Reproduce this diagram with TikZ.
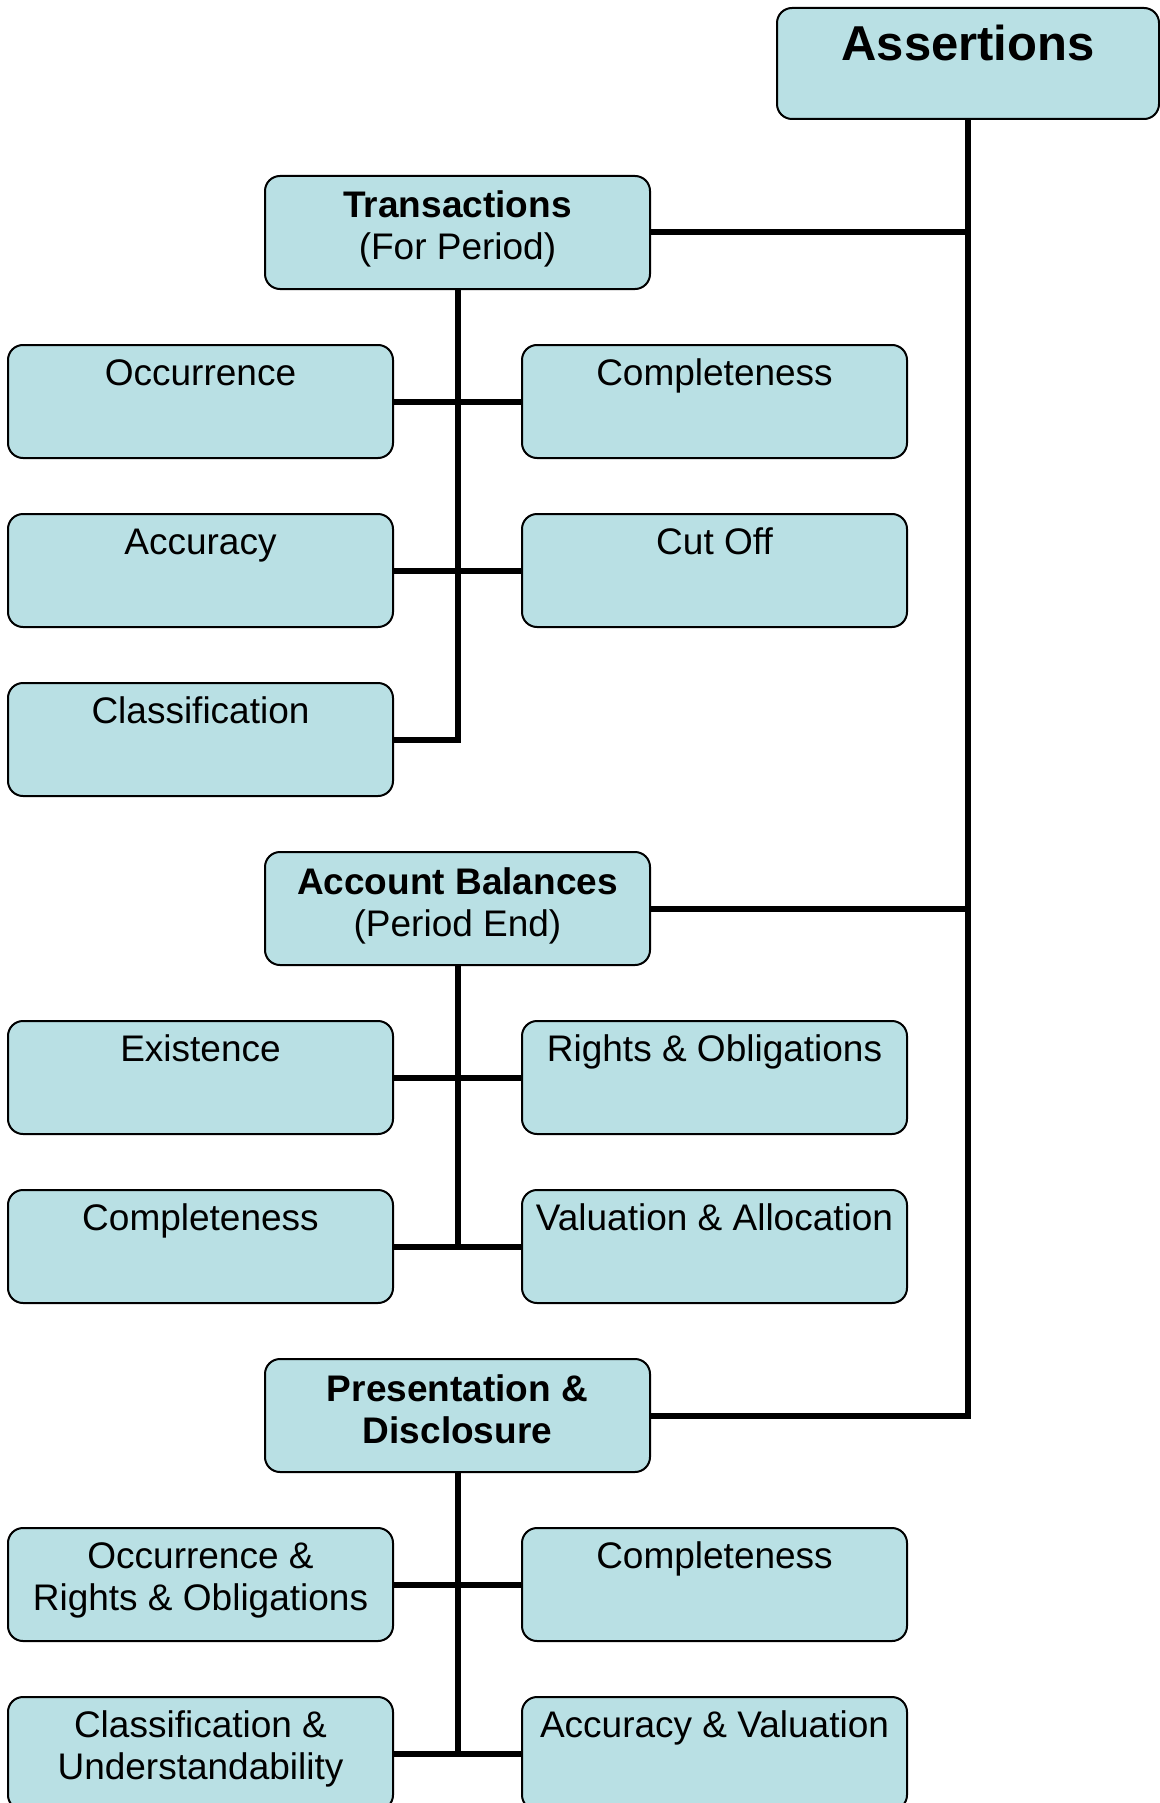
\documentclass[tikz,border=0pt]{standalone}
\usepackage{fontspec}
\setmainfont{Liberation Sans}
\definecolor{boxfill}{RGB}{185,224,228}

% one rounded box plus its top-aligned caption
% #1 name, #2 x, #3 y (top-left corner), #4 caption style, #5 caption
\newcommand\assertbox[5]{%
  \node[box] (#1) at (#2,#3) {};
  \node[#4] (#1-t) at (#1.north) {#5};}

\begin{document}
\begin{tikzpicture}[x=1pt,y=-1pt,
  box/.style={draw=black, line width=2pt, fill=boxfill, rounded corners=15pt,
    anchor=north west, minimum width=385pt, minimum height=113pt, inner sep=0pt},
  % captions sit on the baseline of their last line
  lbl/.style={anchor=base, align=center, inner sep=0pt, yshift=-41pt,
    font=\fontsize{37}{42}\selectfont},
  lbltwo/.style={lbl, yshift=-42pt},
  hdtwo/.style={lbl, yshift=-44pt},
  conn/.style={line width=6pt, line join=miter},
]
\useasboundingbox (0,0) rectangle (1159,1803);

% top node
\node[box, minimum width=382pt, minimum height=111pt] (assert) at (776,7) {};
\node[anchor=base, inner sep=0pt, font=\fontsize{49}{56}\selectfont\bfseries]
  (assert-t) at ([yshift=-54pt]assert.north) {Assertions};

% transactions
\assertbox{trans}{264}{175}{hdtwo}{\textbf{Transactions}\\(For Period)}
\assertbox{occ}{7}{344}{lbl}{Occurrence}
\assertbox{compA}{521}{344}{lbl}{Completeness}
\assertbox{acc}{7}{513}{lbl}{Accuracy}
\assertbox{cut}{521}{513}{lbl}{Cut Off}
\assertbox{cls}{7}{682}{lbl}{Classification}

% account balances
\assertbox{bal}{264}{851}{hdtwo}{\textbf{Account Balances}\\(Period End)}
\assertbox{exi}{7}{1020}{lbl}{Existence}
\assertbox{rig}{521}{1020}{lbl}{Rights \& Obligations}
\assertbox{compB}{7}{1189}{lbl}{Completeness}
\assertbox{val}{521}{1189}{lbl}{Valuation \& Allocation}

% presentation and disclosure
\assertbox{pres}{264}{1358}{hdtwo}{\textbf{Presentation \&}\\\textbf{Disclosure}}
\assertbox{ocr}{7}{1527}{lbltwo}{Occurrence \&\\Rights \& Obligations}
\assertbox{compC}{521}{1527}{lbl}{Completeness}
\assertbox{cu}{7}{1696}{lbltwo}{Classification \&\\Understandability}
\assertbox{av}{521}{1696}{lbl}{Accuracy \& Valuation}

% main trunk
\draw[conn] (assert.south) |- (pres.east);
\draw[conn] (trans.east) -- (trans.east -| assert.south);
\draw[conn] (bal.east) -- (bal.east -| assert.south);

% branches
\draw[conn] (trans.south) |- (cls.east);
\draw[conn] (occ.east) -- (compA.west);
\draw[conn] (acc.east) -- (cut.west);

\draw[conn] (bal.south) -- (bal.south |- val.west);
\draw[conn] (exi.east) -- (rig.west);
\draw[conn] (compB.east) -- (val.west);

\draw[conn] (pres.south) -- (pres.south |- av.west);
\draw[conn] (ocr.east) -- (compC.west);
\draw[conn] (cu.east) -- (av.west);
\end{tikzpicture}
\end{document}
